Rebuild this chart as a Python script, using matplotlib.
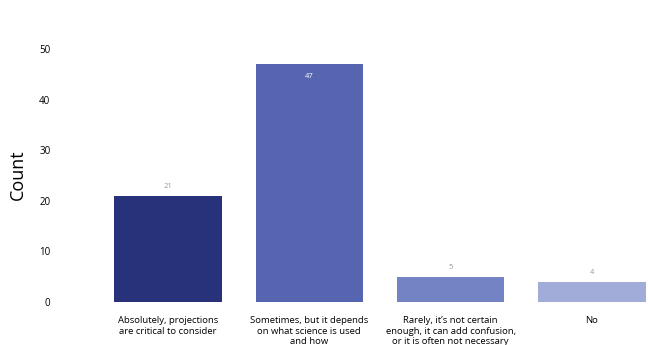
import matplotlib
matplotlib.use("Agg")
import matplotlib.pyplot as plt

categories = [
    "Absolutely, projections\nare critical to consider",
    "Sometimes, but it depends\non what science is used\nand how",
    "Rarely, it\u2019s not certain\nenough, it can add confusion,\nor it is often not necessary",
    "No",
]
counts = [21, 47, 5, 4]
colors = ["#27327a", "#5565af", "#7483c3", "#a2acd8"]
yticks = [0, 10, 20, 30, 40, 50]

plt.rcParams['font.family'] = ['Open Sans', 'DejaVu Sans']

fig = plt.figure(figsize=(6.48, 3.45), dpi=100)
ax = fig.add_axes([0.0926, 0.1246, 0.9074, 0.8214])
x = list(range(len(categories)))
bars = ax.bar(x, counts, width=0.76, color=colors)

for i, (b, v) in enumerate(zip(bars, counts)):
    if v > 40:
        ax.text(b.get_x() + b.get_width()/2, v - 2.4, str(v), ha='center', va='center',
                fontsize=5.5, color='white')
    else:
        ax.text(b.get_x() + b.get_width()/2, v + 1.8, str(v), ha='center', va='center',
                fontsize=5.5, color='#999999')

ax.set_xlim(-0.764, 3.396)
ax.set_ylim(0, 56)
ax.set_yticks(yticks)
ax.set_xticks(x)
ax.set_xticklabels(categories, fontsize=6.8, linespacing=1.25)
ax.tick_params(axis='both', length=0)
ax.tick_params(axis='x', pad=10, labelsize=6.8)
ax.tick_params(axis='y', pad=7, labelsize=7)
for s in ax.spines.values():
    s.set_visible(False)
ax.set_ylabel("Count", fontsize=13)
ax.yaxis.set_label_coords(-0.056, 0.45)

fig.savefig("out.png", dpi=100)
